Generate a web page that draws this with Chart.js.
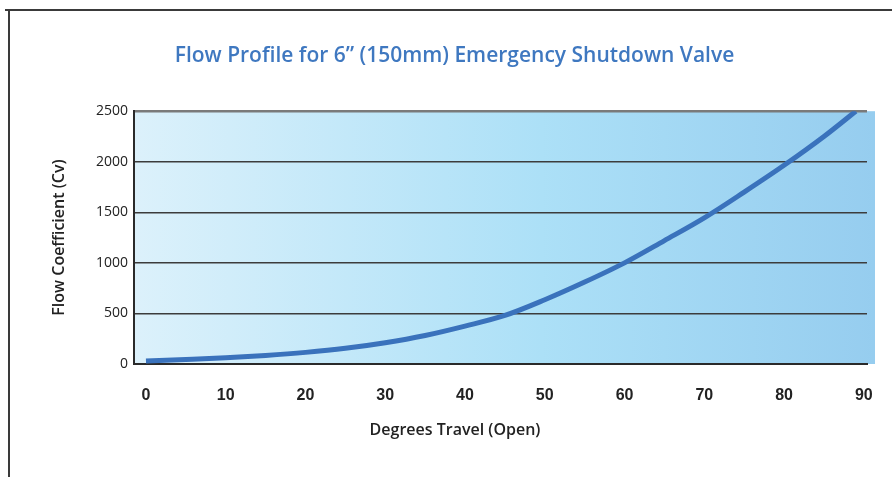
<!DOCTYPE html>
<html>
<head>
<meta charset="utf-8">
<script src="https://cdn.jsdelivr.net/npm/chart.js@4"></script>
<style>
  html, body { margin: 0; padding: 0; background: #fff; }
  canvas { display: block; }
</style>
</head>
<body>
<canvas id="flowchart" width="892" height="477"></canvas>
<script>
// degrees open vs Cv
const degrees = [0, 5, 10, 15, 20, 25, 30, 35, 40, 45, 50, 55, 60, 65, 70, 75, 80, 85, 89];
const flowCv = [30, 45, 62, 85, 115, 155, 210, 282, 375, 480, 635, 810, 1000, 1220, 1445, 1700, 1965, 2250, 2500];
const xTicks = [0, 10, 20, 30, 40, 50, 60, 70, 80, 90];
const yTicks = [0, 500, 1000, 1500, 2000, 2500];

const frameAndFill = {
    id: 'frameAndFill',
    beforeDraw(chart) {
        const c = chart.ctx;
        const a = chart.chartArea;
        c.save();
        // outer frame, left and top only
        c.strokeStyle = '#3a3a3a';
        c.lineWidth = 2;
        c.beginPath();
        c.moveTo(5, 10);
        c.lineTo(892, 10);
        c.moveTo(9, 10);
        c.lineTo(9, 477);
        c.stroke();
        // plot background gradient
        const g = c.createLinearGradient(a.left, 0, a.right + 8, 0);
        g.addColorStop(0, '#dcf1fb');
        g.addColorStop(0.55, '#ace0f7');
        g.addColorStop(1, '#96cdef');
        c.fillStyle = g;
        c.fillRect(a.left, a.top, a.right - a.left + 8, a.bottom - a.top);
        c.restore();
    },
    afterDraw(chart) {
        // x axis title sits left of the plot centre in the original
        const c = chart.ctx;
        c.save();
        c.fillStyle = '#222';
        c.font = '600 16px "Open Sans"';
        c.textAlign = 'center';
        c.textBaseline = 'middle';
        c.fillText('Degrees Travel (Open)', 455, 430);
        c.restore();
    }
};

const ctx = document.getElementById('flowchart');

new Chart(ctx, {
    type: 'line',
    data: {
        datasets: [{
            data: degrees.map((d, i) => ({ x: d, y: flowCv[i] })),
            borderColor: '#3a72bc',
            borderWidth: 5,
            pointRadius: 0,
            cubicInterpolationMode: 'monotone',
            fill: false
        }]
    },
    options: {
        responsive: false,
        animation: false,
        devicePixelRatio: 1,
        layout: { padding: { left: 42, right: 25, top: 0, bottom: 0 } },
        plugins: {
            legend: { display: false },
            tooltip: { enabled: false },
            title: {
                display: true,
                text: 'Flow Profile for 6\u201d (150mm) Emergency Shutdown Valve',
                color: '#3f78c0',
                font: { family: 'Open Sans', size: 21, weight: '600' },
                padding: { top: 43, bottom: 43 }
            }
        },
        scales: {
            x: {
                type: 'linear',
                min: -1.5,
                max: 90.4,
                afterBuildTicks: (scale) => {
                    scale.ticks = xTicks.map(v => ({ value: v }));
                },
                afterFit: (scale) => { scale.height = 113; },
                grid: { display: false },
                border: { display: true, color: '#2a2a2a', width: 2 },
                ticks: {
                    color: '#222',
                    padding: 14,
                    maxRotation: 0,
                    font: { family: 'Liberation Sans', size: 16, weight: 'bold' }
                }
            },
            y: {
                min: 0,
                max: 2500,
                afterBuildTicks: (scale) => {
                    scale.ticks = yTicks.map(v => ({ value: v }));
                },
                afterFit: (scale) => { scale.width = 92; },
                grid: {
                    drawTicks: false,
                    color: (c) => c.tick && c.tick.value === 2500 ? '#7a7a7a' : '#3c3c3c',
                    lineWidth: (c) => c.tick && c.tick.value === 2500 ? 2.5 : 1.5
                },
                border: { display: true, color: '#2a2a2a', width: 2 },
                ticks: {
                    color: '#222',
                    padding: 6,
                    font: { family: 'Open Sans', size: 14, weight: '500' },
                    callback: (v) => String(v)
                },
                title: {
                    display: true,
                    text: 'Flow Coefficient (Cv)',
                    color: '#222',
                    font: { family: 'Open Sans', size: 16, weight: '600' },
                    padding: { top: 8, bottom: 8 }
                }
            }
        }
    },
    plugins: [frameAndFill]
});
</script>
</body>
</html>
